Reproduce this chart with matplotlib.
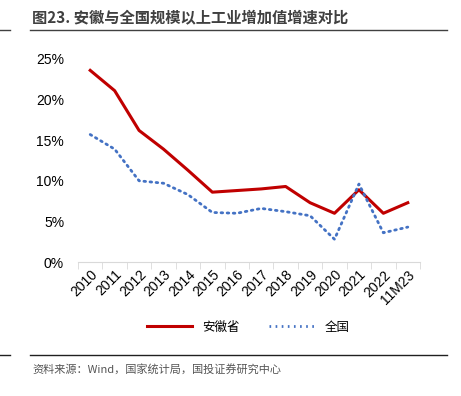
import matplotlib.pyplot as plt
import matplotlib.lines as mlines
import numpy as np

plt.rcParams['font.family'] = ['Liberation Sans', 'Noto Sans CJK SC', 'DejaVu Sans']

years = ["2010", "2011", "2012", "2013", "2014", "2015", "2016", "2017",
         "2018", "2019", "2020", "2021", "2022", "11M23"]
anhui = [23.6, 21.1, 16.2, 13.9, 11.3, 8.6, 8.8, 9.0, 9.3, 7.3, 6.0, 8.9, 6.0, 7.3]
china = [15.7, 13.9, 10.0, 9.7, 8.3, 6.1, 6.0, 6.6, 6.2, 5.7, 2.8, 9.6, 3.6, 4.3]

fig = plt.figure(figsize=(4.61, 3.96), dpi=100)
ax = fig.add_axes([78 / 461, 1 - 262 / 396, 342 / 461, 203 / 396])

x = np.arange(len(years))
ax.plot(x, anhui, color="#C00000", lw=2.2, solid_joinstyle="round")
ax.plot(x, china, color="#4472C4", lw=2, linestyle=(0, (0.6, 1.6)), dash_capstyle="round")

ax.set_xlim(-0.5, len(years) - 0.5)
ax.set_ylim(0, 25)
ax.set_yticks([0, 5, 10, 15, 20, 25])
ax.set_yticklabels([f"{v}%" for v in [0, 5, 10, 15, 20, 25]], fontsize=10)
ax.set_xticks(x)
ax.set_xticklabels(years, rotation=45, ha="right", rotation_mode="anchor", fontsize=10)
ax.set_xticks(np.arange(-0.5, len(years), 1), minor=True)
ax.tick_params(axis="x", which="major", length=0, pad=4)
ax.tick_params(axis="x", which="minor", length=5, color="#D9D9D9")
ax.tick_params(axis="y", length=0, pad=10)
for s in ["top", "right", "left"]:
    ax.spines[s].set_visible(False)
ax.spines["bottom"].set_color("#D9D9D9")

# legend
cjk = ['Noto Sans CJK SC', 'DejaVu Sans']
h1 = mlines.Line2D([], [], color="#C00000", lw=2.2)
h2 = mlines.Line2D([], [], color="#4472C4", lw=2, linestyle=(0, (0.6, 1.6)))
fig.legend([h1, h2], ["安徽省", "全国"], loc="center", bbox_to_anchor=(248 / 461, 1 - 327 / 396),
           ncol=2, frameon=False, prop={"family": cjk, "size": 9}, handlelength=3.6,
           columnspacing=2.4, handletextpad=0.8)

# title and frame lines
fig.text(32 / 461, 1 - 18 / 396, "图23. 安徽与全国规模以上工业增加值增速对比", fontsize=11,
         fontweight="bold", color="#404040", va="center", family=cjk)
fig.add_artist(mlines.Line2D([30 / 461, 447 / 461], [1 - 30 / 396] * 2, color="#404040", lw=1))
fig.add_artist(mlines.Line2D([0, 10 / 461], [1 - 30 / 396] * 2, color="#404040", lw=1))
fig.add_artist(mlines.Line2D([30 / 461, 447 / 461], [1 - 355 / 396] * 2, color="#202020", lw=1))
fig.add_artist(mlines.Line2D([0, 10 / 461], [1 - 355 / 396] * 2, color="#202020", lw=1))
fig.text(32 / 461, 1 - 369 / 396, "资料来源：Wind，国家统计局，国投证券研究中心", fontsize=8,
         style="italic", color="#555555", va="center", family=cjk)

fig.savefig("out.png", dpi=100)
